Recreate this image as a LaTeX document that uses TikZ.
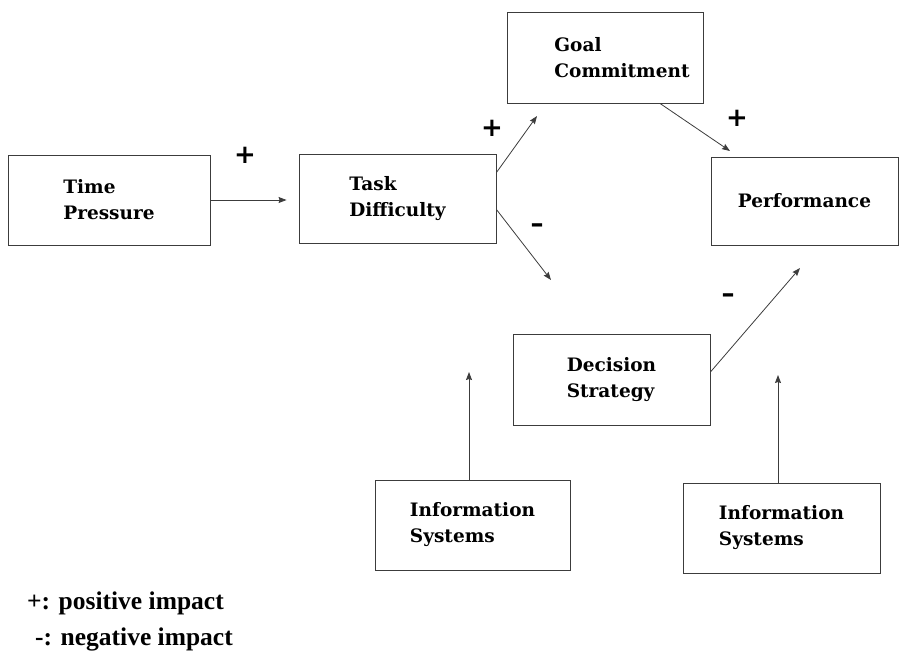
\documentclass[tikz,border=0pt]{standalone}
\usepackage{fontspec}
\usepackage{tikz}
\usetikzlibrary{arrows.meta}
\newfontfamily\boxfont{DejaVu Serif}
\newfontfamily\signfont{DejaVu Sans}
\newfontfamily\keyfont{Liberation Serif}
\definecolor{edgegray}{RGB}{60, 60, 60}

\begin{document}
\begin{tikzpicture}[
  x=1pt, y=-1pt,
  box/.style={rectangle, draw=edgegray, line width=0.9pt, minimum width=197pt, minimum height=90pt, align=left, font={\boxfont\bfseries\fontsize{18.5}{26}\selectfont}},
  arrow/.style={-{Stealth[length=8pt, width=6pt, inset=1pt]}, line width=0.8pt, draw=edgegray},
  sign/.style={font={\signfont\bfseries\fontsize{26}{26}\selectfont}, inner sep=0pt},
  key/.style={anchor=base west, inner sep=0pt, font={\keyfont\bfseries\fontsize{25.5}{26}\selectfont}}
]
\useasboundingbox (0,0) rectangle (900,657);

% Boxes
\node[box, minimum width=202pt] (time)  at (109,200)   {Time\\Pressure};
\node[box, minimum height=89pt] (task)  at (397.5,198.5) {Task\\Difficulty};
\node[box, minimum width=196pt, minimum height=91pt] (goal)  at (605,57.5)  {\hspace*{34pt}Goal\\\hspace*{34pt}Commitment};
\node[box, minimum width=187pt, minimum height=88pt] (perf)  at (804.5,201) {Performance};
\node[box, minimum height=91pt] (strat) at (611.5,379.5) {Decision\\Strategy};
\node[box, minimum width=195pt] (infoA) at (472.5,525)   {Information\\Systems};
\node[box] (infoB) at (781.5,528)   {Information\\Systems};

% Free arrow ends
\coordinate (goalend) at (537,116);
\coordinate (stratend) at (551,280);
\coordinate (perfup) at (730,151);
\coordinate (perflow) at (800,268);
\coordinate (infoAend) at (469,372);
\coordinate (infoBend) at (778,375);

% Arrows
\draw[arrow, shorten >=12pt] (time.east) -- (time.east -| task.west);
\draw[arrow] ([yshift=26pt]task.east) -- (goalend);
\draw[arrow] ([yshift=-11pt]task.east) -- (stratend);
\draw[arrow] ([xshift=55pt]goal.south) -- (perfup);
\draw[arrow] ([yshift=7.5pt]strat.east) -- (perflow);
\draw[arrow] (infoAend |- infoA.north) -- (infoAend);
\draw[arrow] (infoBend |- infoB.north) -- (infoBend);

% Signs
\node[sign] (timeplus)  at (245,155) {+};
\node[sign] (goalplus)  at (492,128) {+};
\node[sign] (stratminus) at (537,228) {–};
\node[sign] (perfplus)  at (737,118) {+};
\node[sign] (perfminus) at (728,298) {–};

% Key
\node[key] (keyplus)  at (27,609) {+: positive impact};
\node[key] (keyminus) at (35,645) {-: negative impact};

\end{tikzpicture}
\end{document}
